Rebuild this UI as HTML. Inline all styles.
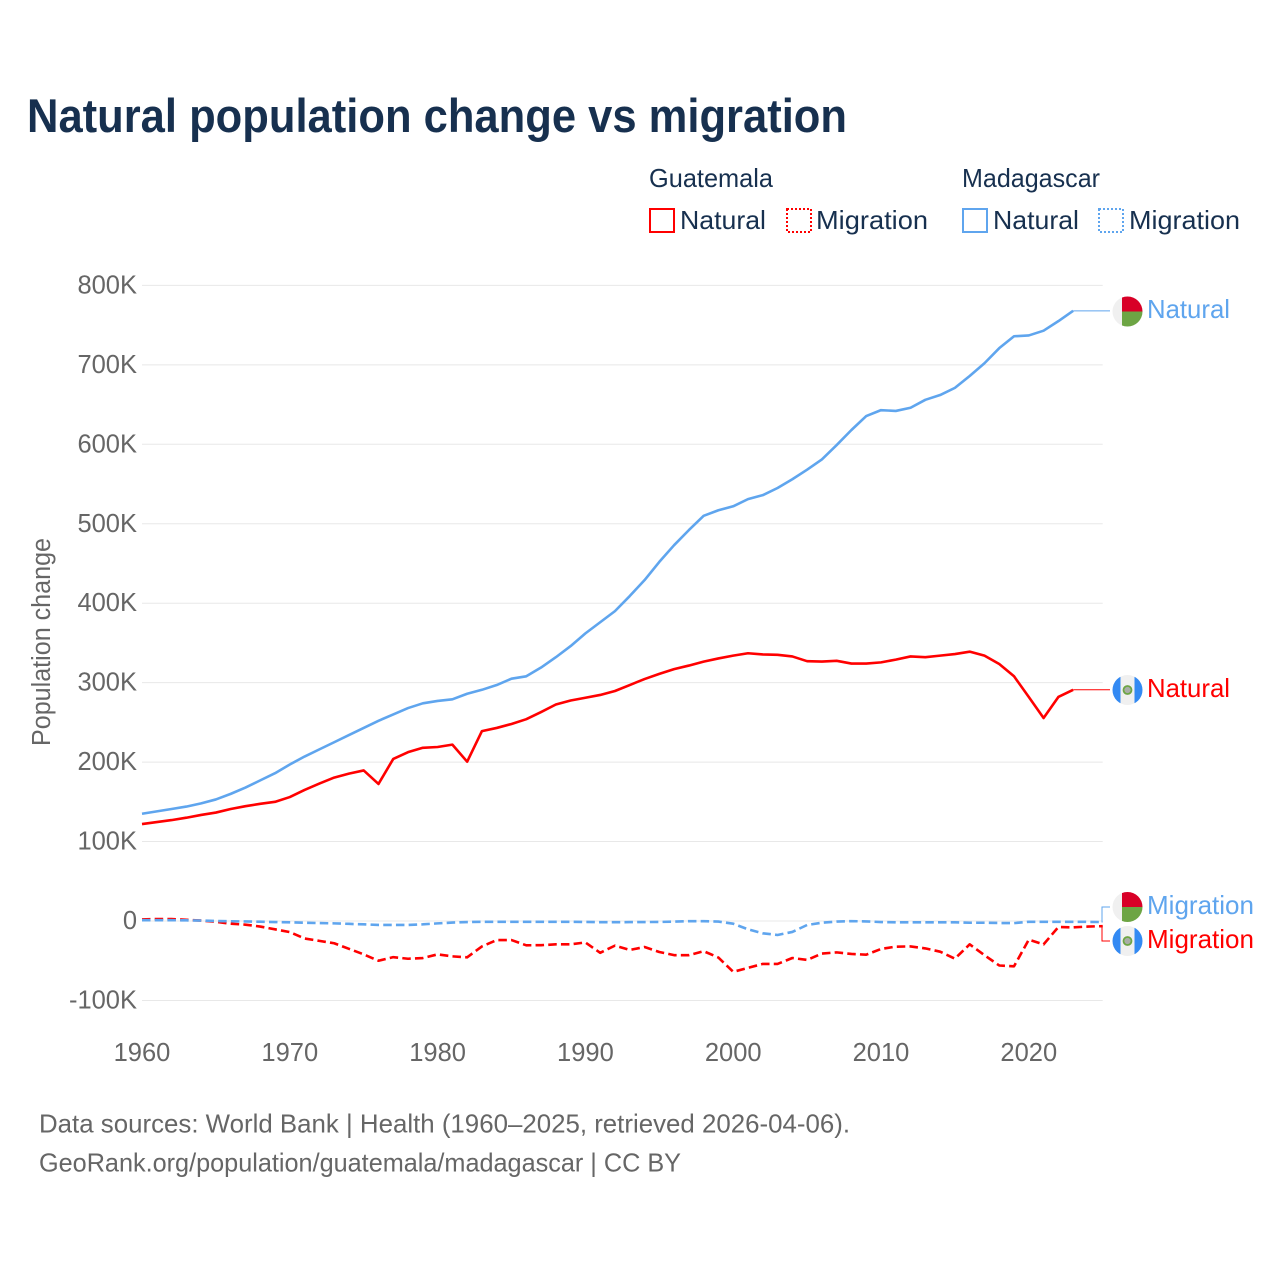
<!DOCTYPE html>
<html lang="en">
<head>
<meta charset="utf-8">
<title>Natural population change vs migration</title>
<style>
html,body{margin:0;padding:0;background:#fff;}
svg{display:block;}
text{font-family:"Liberation Sans",sans-serif;}
</style>
</head>
<body>
<svg id="chart" xmlns="http://www.w3.org/2000/svg" width="1280" height="1280" viewBox="0 0 1280 1280">
  <defs>
    <clipPath id="flag-clip-a"><circle cx="1127.5" cy="311.5" r="15"/></clipPath>
    <clipPath id="flag-clip-b"><circle cx="1127.5" cy="690" r="15"/></clipPath>
    <clipPath id="flag-clip-c"><circle cx="1127.5" cy="907" r="15"/></clipPath>
    <clipPath id="flag-clip-d"><circle cx="1127.5" cy="941" r="15"/></clipPath>
  </defs>
  <rect x="0" y="0" width="1280" height="1280" fill="#ffffff"/>

  <text x="27" y="132" font-size="47" font-weight="700" fill="#17304f" textLength="820" lengthAdjust="spacingAndGlyphs">Natural population change vs migration</text>

  <g font-size="26" fill="#17304f">
    <text x="649" y="187" textLength="124" lengthAdjust="spacingAndGlyphs">Guatemala</text>
    <text x="962" y="187" textLength="138" lengthAdjust="spacingAndGlyphs">Madagascar</text>
    <rect x="650" y="209" width="24" height="23" fill="none" stroke="#ff0000" stroke-width="2"/>
    <text x="680" y="229" textLength="86" lengthAdjust="spacingAndGlyphs">Natural</text>
    <rect x="787" y="209" width="24" height="23" fill="none" stroke="#ff0000" stroke-width="2" stroke-dasharray="2 2"/>
    <text x="816" y="229" textLength="112" lengthAdjust="spacingAndGlyphs">Migration</text>
    <rect x="963" y="209" width="24" height="23" fill="none" stroke="#5fa5ee" stroke-width="2"/>
    <text x="993" y="229" textLength="86" lengthAdjust="spacingAndGlyphs">Natural</text>
    <rect x="1099" y="209" width="24" height="23" fill="none" stroke="#5fa5ee" stroke-width="2" stroke-dasharray="2 2"/>
    <text x="1129" y="229" textLength="111" lengthAdjust="spacingAndGlyphs">Migration</text>
  </g>

  <g id="grid"></g>
  <g id="y-ticks" font-size="25.5" fill="#666666" text-anchor="end"></g>
  <g id="x-ticks" font-size="25.5" fill="#666666" text-anchor="middle"></g>
  <text transform="translate(50,746) rotate(-90)" font-size="25.5" fill="#666666" textLength="208" lengthAdjust="spacingAndGlyphs">Population change</text>
  <g id="series" fill="none" stroke-linejoin="round"></g>

  <g fill="none" stroke-width="1">
    <path id="connector-mn" stroke="#5fa5ee"/>
    <path id="connector-gn" stroke="#ff0000"/>
    <path id="connector-mm" stroke="#5fa5ee"/>
    <path id="connector-gm" stroke="#ff0000"/>
  </g>

  <g clip-path="url(#flag-clip-a)">
    <rect x="1112" y="296" width="31" height="31" fill="#f0f0f0"/>
    <rect x="1122" y="296" width="21" height="15.5" fill="#d80027"/>
    <rect x="1122" y="311.5" width="21" height="15.5" fill="#6da544"/>
  </g>
  <g clip-path="url(#flag-clip-b)">
    <rect x="1112" y="675" width="31" height="31" fill="#f0f0f0"/>
    <rect x="1112" y="675" width="8.5" height="31" fill="#338af3"/>
    <rect x="1134.5" y="675" width="8.5" height="31" fill="#338af3"/>
    <circle cx="1127.5" cy="690" r="4" fill="#a9ada6" stroke="#6da544" stroke-width="1.8"/>
  </g>
  <g clip-path="url(#flag-clip-c)">
    <rect x="1112" y="892" width="31" height="31" fill="#f0f0f0"/>
    <rect x="1122" y="892" width="21" height="15" fill="#d80027"/>
    <rect x="1122" y="907" width="21" height="16" fill="#6da544"/>
  </g>
  <g clip-path="url(#flag-clip-d)">
    <rect x="1112" y="926" width="31" height="31" fill="#f0f0f0"/>
    <rect x="1112" y="926" width="8.5" height="31" fill="#338af3"/>
    <rect x="1134.5" y="926" width="8.5" height="31" fill="#338af3"/>
    <circle cx="1127.5" cy="941" r="4" fill="#a9ada6" stroke="#6da544" stroke-width="1.8"/>
  </g>

  <g font-size="26">
    <text x="1147" y="318" fill="#5fa5ee" textLength="83" lengthAdjust="spacingAndGlyphs">Natural</text>
    <text x="1147" y="697" fill="#ff0000" textLength="83" lengthAdjust="spacingAndGlyphs">Natural</text>
    <text x="1147" y="914" fill="#5fa5ee" textLength="107" lengthAdjust="spacingAndGlyphs">Migration</text>
    <text x="1147" y="948" fill="#ff0000" textLength="107" lengthAdjust="spacingAndGlyphs">Migration</text>
  </g>

  <g font-size="26" fill="#666666">
    <text x="39" y="1132.5" textLength="811" lengthAdjust="spacingAndGlyphs">Data sources: World Bank | Health (1960–2025, retrieved 2026-04-06).</text>
    <text x="39" y="1171.5" textLength="642" lengthAdjust="spacingAndGlyphs">GeoRank.org/population/guatemala/madagascar | CC BY</text>
  </g>
</svg>
<script>
// Chart data (values in thousands)
const startYear = 1960;
const yTickValues = [800, 700, 600, 500, 400, 300, 200, 100, 0, -100];
const yTickLabels = ['800K', '700K', '600K', '500K', '400K', '300K', '200K', '100K', '0', '-100K'];
const xTickYears = [1960, 1970, 1980, 1990, 2000, 2010, 2020];
const madagascarNatural = [135,138,141,144,148,153,160,168,177,186,197,207,216,225,234,243,252,260,268,274,277,279,286,291,297,305,308,319,332,346,362,376,390,409,429,452,473,492,510,517,522,531,536,545,556,568,581,599,618,635.5,643,642,646,656,662,671,686,702,721,736,737,743,755,768];
const guatemalaNatural = [122,124.5,127,130,133.5,136.5,141,144.5,147.5,150,156,165,173,180.5,185.5,189.5,172.5,204,212.5,218,219,222,200.5,239,243,248,254,263,272.5,277.5,281,284.5,289.5,297,304.5,311,317,321.5,326.5,330.5,334,337,335.5,335,333,327,326.5,327.5,324,324,325.5,329,333,332,334,336,339,334,323.5,308,282,255.5,282,291];
const guatemalaMigration = [2,2.5,2.5,1.5,0.5,-1,-3.4,-4.6,-7,-10.5,-14,-22,-25,-28,-35,-42,-50,-45.5,-47.5,-46.6,-42,-44.5,-45.7,-32,-24,-24,-30.6,-30.4,-29.4,-29.4,-27,-40,-31,-36.5,-32.7,-39,-43,-43,-38,-46,-64,-59,-54,-54,-46.6,-49,-41,-39.5,-41.5,-42.4,-35.2,-32.3,-32,-34.5,-38.6,-47.4,-29.4,-43,-56,-57,-23.5,-29.4,-7.6,-8,-7,-6.5];
const madagascarMigration = [1,1,1,0.8,0.5,0,-0.3,-0.6,-0.9,-1.3,-1.7,-2.2,-2.6,-3,-3.6,-4.2,-5,-5,-5,-4.2,-3,-2,-1.3,-1,-1,-1,-1,-1,-1,-1,-1.2,-1.5,-1.5,-1.4,-1.3,-1.2,-0.7,-0.2,-0.2,-0.7,-3.4,-10.5,-15.5,-17.6,-13.8,-5,-2.2,-0.7,-0.2,-0.5,-1.3,-1.7,-1.7,-1.7,-1.7,-1.7,-2.2,-2.2,-2.5,-2.7,-1,-1,-1,-1,-1.1,-1.3];

// Axis functions
function xScale(year) {
  return 142 + (year - 1960) * 14.78;
}
function yScale(value) {
  return 921 - value * 0.7945;
}

const SVG_NS = 'http://www.w3.org/2000/svg';
const gridGroup = document.getElementById('grid');
const yTickGroup = document.getElementById('y-ticks');
const xTickGroup = document.getElementById('x-ticks');
const seriesGroup = document.getElementById('series');

yTickValues.forEach(function (value, i) {
  const line = document.createElementNS(SVG_NS, 'line');
  
  
  line.setAttribute('x1', xScale(1960));
  line.setAttribute('x2', xScale(2025));
  line.setAttribute('y1', yScale(value));
  line.setAttribute('y2', yScale(value));
  line.setAttribute('stroke', '#e8e8e8');
  line.setAttribute('stroke-width', '1');
  gridGroup.appendChild(line);

  const label = document.createElementNS(SVG_NS, 'text');
  
  
  label.setAttribute('x', 137);
  label.setAttribute('y', yScale(value) + 8);
  label.textContent = yTickLabels[i];
  yTickGroup.appendChild(label);
});

xTickYears.forEach(function (year) {
  const label = document.createElementNS(SVG_NS, 'text');
  
  
  label.setAttribute('x', xScale(year));
  label.setAttribute('y', 1061);
  label.textContent = String(year);
  xTickGroup.appendChild(label);
});

function linePath(values) {
  return values.map(function (v, i) {
    return (i ? 'L' : 'M') + xScale(startYear + i).toFixed(2) + ' ' + yScale(v).toFixed(2);
  }).join('');
}

function lastPoint(values) {
  const i = values.length - 1;
  return [xScale(startYear + i), yScale(values[i])];
}

function drawSeries(values, color, dashed, seriesName) {
  const path = document.createElementNS(SVG_NS, 'path');
  
  
  path.setAttribute('d', linePath(values));
  path.setAttribute('stroke', color);
  path.setAttribute('stroke-width', '2.6');
  if (dashed) {
    path.setAttribute('stroke-dasharray', '8.5 4.2');
  }
  seriesGroup.appendChild(path);
}

drawSeries(guatemalaNatural, '#ff0000', false, 'line-guatemala-natural');
drawSeries(guatemalaMigration, '#ff0000', true, 'line-guatemala-migration');
drawSeries(madagascarNatural, '#5fa5ee', false, 'line-madagascar-natural');
drawSeries(madagascarMigration, '#5fa5ee', true, 'line-madagascar-migration');

const pMN = lastPoint(madagascarNatural);
const pGN = lastPoint(guatemalaNatural);
const pMM = lastPoint(madagascarMigration);
const pGM = lastPoint(guatemalaMigration);
document.getElementById('connector-mn').setAttribute('d', 'M' + pMN[0] + ' ' + pMN[1] + 'L1110 ' + pMN[1]);
document.getElementById('connector-gn').setAttribute('d', 'M' + pGN[0] + ' ' + pGN[1] + 'L1110 ' + pGN[1]);
document.getElementById('connector-mm').setAttribute('d', 'M' + pMM[0] + ' ' + pMM[1] + 'L1102 ' + pMM[1] + 'L1102 907L1110 907');
document.getElementById('connector-gm').setAttribute('d', 'M' + pGM[0] + ' ' + pGM[1] + 'L1102 ' + pGM[1] + 'L1102 941L1110 941');
</script>
</body>
</html>
